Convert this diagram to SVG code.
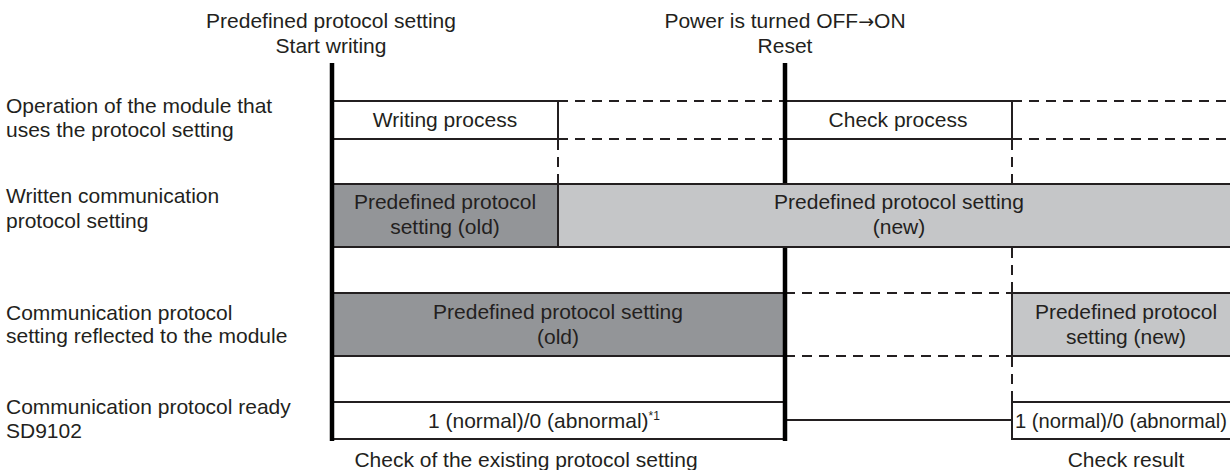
<svg xmlns="http://www.w3.org/2000/svg" width="1230" height="470" viewBox="0 0 1230 470">
<style>
text{font-family:"Liberation Sans",Arial,sans-serif;font-size:21px;fill:#231f20}
.c{text-anchor:middle}
.box{stroke:#231f20;stroke-width:2}
.white{fill:#fff}
.dark{fill:#939598}
.light{fill:#c5c6c8}
.thick{stroke:#000;stroke-width:4.5;fill:none}
.thin{stroke:#231f20;stroke-width:2;fill:none}
.dash{stroke:#231f20;stroke-width:2;fill:none;stroke-dasharray:10 7}
.sup{font-size:12px}
.arrow{font-family:"DejaVu Sans",sans-serif;font-size:19px}
</style>
<rect width="1230" height="470" fill="#fff"/>

<g id="event-start">
<text class="c" x="331" y="28">Predefined protocol setting</text>
<text class="c" x="331" y="53">Start writing</text>
</g>
<g id="event-reset">
<text class="c" x="785" y="28">Power is turned OFF<tspan class="arrow">→</tspan>ON</text>
<text class="c" x="785" y="53">Reset</text>
</g>

<g id="label-operation">
<text x="6" y="113">Operation of the module that</text>
<text x="6" y="137">uses the protocol setting</text>
</g>
<g id="label-written">
<text x="6" y="203">Written communication</text>
<text x="6" y="228">protocol setting</text>
</g>
<g id="label-reflected">
<text x="6" y="320">Communication protocol</text>
<text x="6" y="343">setting reflected to the module</text>
</g>
<g id="label-ready">
<text x="6" y="414">Communication protocol ready</text>
<text x="6" y="438">SD9102</text>
</g>

<g id="writing-process">
<rect class="box white" x="332" y="101" width="226" height="38"/>
<text class="c" x="445" y="127">Writing process</text>
</g>
<g id="check-process">
<rect class="box white" x="785" y="101" width="227" height="38"/>
<text class="c" x="898" y="127">Check process</text>
</g>

<g id="written-old">
<rect class="box dark" x="332" y="184" width="226" height="63"/>
<text class="c" x="445" y="209">Predefined protocol</text>
<text class="c" x="445" y="234">setting (old)</text>
</g>
<g id="written-new">
<rect class="box light" x="558" y="184" width="690" height="63"/>
<text class="c" x="899" y="209">Predefined protocol setting</text>
<text class="c" x="899" y="234">(new)</text>
</g>

<g id="reflected-old">
<rect class="box dark" x="332" y="293" width="453" height="63"/>
<text class="c" x="558" y="319">Predefined protocol setting</text>
<text class="c" x="558" y="344">(old)</text>
</g>
<g id="reflected-new">
<rect class="box light" x="1012" y="293" width="240" height="63"/>
<text class="c" x="1126" y="319">Predefined protocol</text>
<text class="c" x="1126" y="344">setting (new)</text>
</g>

<g id="ready-existing">
<rect class="box white" x="332" y="402" width="453" height="37"/>
<text x="428" y="428">1 (normal)/0 (abnormal)<tspan class="sup" dy="-8">*1</tspan></text>
</g>
<g id="ready-result">
<rect class="box white" x="1012" y="402" width="240" height="37"/>
<text x="1015" y="428" textLength="212" lengthAdjust="spacingAndGlyphs">1 (normal)/0 (abnormal)</text>
</g>

<g id="bottom-existing">
<text class="c" x="526" y="467">Check of the existing protocol setting</text>
</g>
<g id="bottom-result">
<text class="c" x="1126" y="467">Check result</text>
</g>

<g id="connectors">
<path class="dash" d="M558 101H785M558 139H785M1012 101H1230M1012 139H1230"/>
<path class="dash" d="M785 293H1012M785 356H1012"/>
<path class="dash" d="M558 140V183M1012 140V183M1012 248V292M1012 357V401"/>
<path class="thin" d="M785 420H1012"/>
<path class="thick" d="M332 63V441"/>
<path class="thick" d="M785 63V183M785 248V441"/>
</g>
</svg>
